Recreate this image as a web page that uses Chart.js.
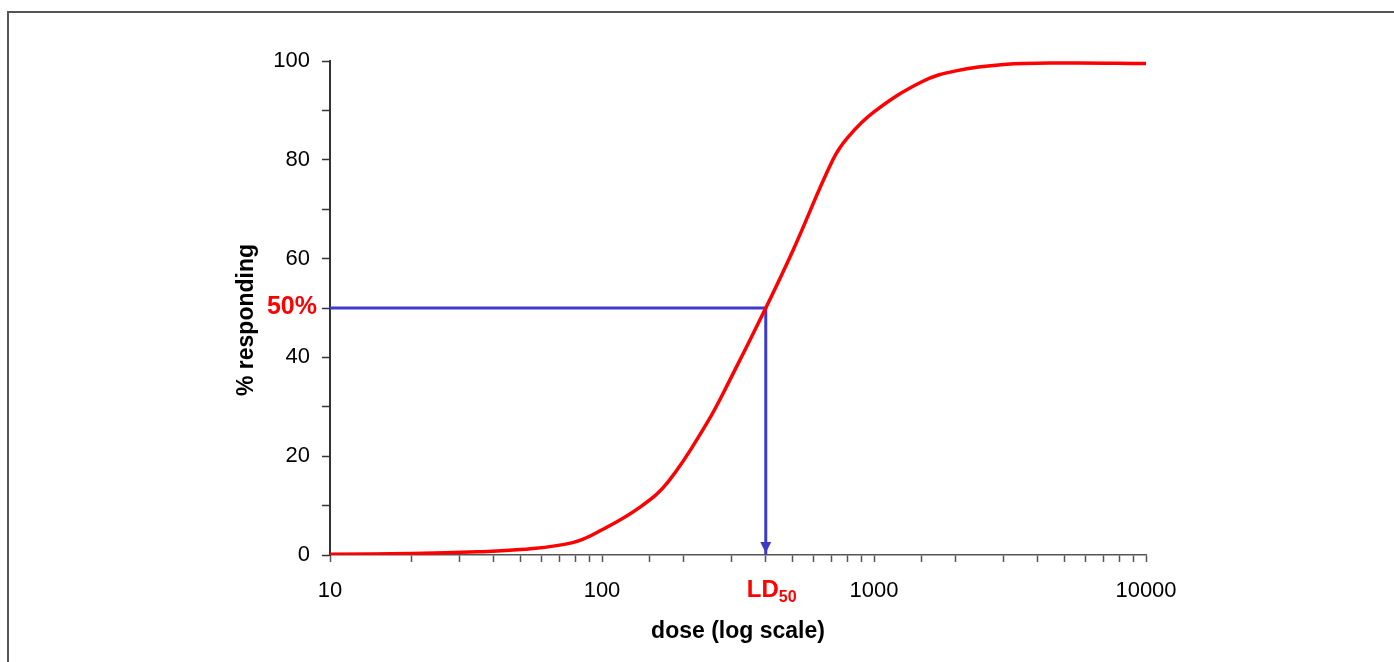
<!DOCTYPE html>
<html>
<head>
<meta charset="utf-8">
<script src="https://cdn.jsdelivr.net/npm/chart.js@4"></script>
<style>
  html, body { margin: 0; padding: 0; background: #fff; }
  #wrap { position: relative; width: 1394px; height: 662px; }
</style>
</head>
<body>
<div id="wrap"><canvas id="c" width="1394" height="662"></canvas></div>
<script>
// ---- data ----
const doses    = [10, 20, 35, 50, 78, 100, 138, 175, 243, 295, 400, 504, 706, 800, 1000, 1500, 2000, 3000, 5000, 10000];
const response = [0.15, 0.3, 0.65, 1.1, 2.5, 5.1, 9.7, 14.8, 26.7, 35.4, 50, 61.7, 80, 84.5, 89.7, 95.8, 98.0, 99.3, 99.6, 99.5];
const ld50Dose = 400;
const halfResponse = 50;
const xTickLabels = [10, 100, 1000, 10000];
const yTickLabels = [0, 20, 40, 60, 80, 100];
const xTitle = 'dose (log scale)';
const yTitle = '% responding';

const FONT = '"Liberation Sans", Arial, Helvetica, sans-serif';
const BLUE = '#3c3cc8';
const RED = '#ff0000';

const curveData = doses.map((d, i) => ({ x: d, y: response[i] }));
const guideData = [
  { x: doses[0], y: halfResponse },
  { x: ld50Dose, y: halfResponse },
  { x: ld50Dose, y: 0 }
];

const decor = {
  id: 'decor',
  afterDraw(chart) {
    const ctx = chart.ctx;
    const xs = chart.scales.x, ys = chart.scales.y;
    ctx.save();
    // frame
    ctx.strokeStyle = '#555';
    ctx.lineWidth = 2;
    ctx.beginPath();
    ctx.moveTo(8, 700);
    ctx.lineTo(8, 12);
    ctx.lineTo(1400, 12);
    ctx.stroke();

    // arrowhead at LD50 on the axis
    const ax = xs.getPixelForValue(ld50Dose);
    const ay = ys.getPixelForValue(0) - 2;
    ctx.fillStyle = BLUE;
    ctx.beginPath();
    ctx.moveTo(ax, ay);
    ctx.lineTo(ax - 5.5, ay - 11);
    ctx.lineTo(ax + 5.5, ay - 11);
    ctx.closePath();
    ctx.fill();

    // "50%" label
    ctx.fillStyle = RED;
    ctx.font = 'bold 25px ' + FONT;
    ctx.textAlign = 'right';
    ctx.textBaseline = 'middle';
    ctx.fillText(halfResponse + '%', 317, ys.getPixelForValue(halfResponse) - 1);

    // LD50 label with subscript
    ctx.textAlign = 'left';
    ctx.textBaseline = 'alphabetic';
    ctx.font = 'bold 24px ' + FONT;
    const lx = ax - 19;
    ctx.fillText('LD', lx, 597);
    const w = ctx.measureText('LD').width;
    ctx.font = 'bold 16px ' + FONT;
    ctx.fillText('50', lx + w, 602);

    // axis titles
    ctx.fillStyle = '#000';
    ctx.font = 'bold 23px ' + FONT;
    ctx.textAlign = 'center';
    ctx.textBaseline = 'middle';
    ctx.fillText(xTitle, (chart.chartArea.left + chart.chartArea.right) / 2, 632);
    ctx.translate(247, 320);
    ctx.rotate(-Math.PI / 2);
    ctx.fillText(yTitle, 0, 0);
    ctx.restore();
  }
};

new Chart(document.getElementById('c'), {
  type: 'line',
  data: {
    datasets: [
      {
        data: curveData,
        borderColor: RED,
        borderWidth: 3.5,
        pointRadius: 0,
        tension: 0.4,
        fill: false
      },
      {
        data: guideData,
        borderColor: BLUE,
        borderWidth: 3,
        pointRadius: 0,
        tension: 0,
        fill: false
      }
    ]
  },
  options: {
    responsive: false,
    animation: false,
    events: [],
    layout: { padding: { top: 61, right: 248, bottom: 0, left: 0 } },
    plugins: { legend: { display: false }, tooltip: { enabled: false }, title: { display: false } },
    scales: {
      x: {
        type: 'logarithmic',
        min: 10,
        max: 10000,
        afterFit(s) { s.height = 107; },
        border: { display: true, color: '#555', width: 1.5 },
        grid: { drawOnChartArea: false, drawTicks: true, tickLength: 7, color: '#555', tickWidth: 1.5 },
        ticks: {
          autoSkip: false,
          maxRotation: 0,
          padding: 16,
          color: '#000',
          font: { family: FONT, size: 22 },
          callback(v) {
            return xTickLabels.some(t => Math.abs(t - v) < 1e-6) ? String(v) : '';
          }
        }
      },
      y: {
        min: 0,
        max: 100,
        afterFit(s) { s.width = 330; },
        border: { display: true, color: '#333', width: 2 },
        grid: { drawOnChartArea: false, drawTicks: true, tickLength: 8, color: '#333', tickWidth: 1.5 },
        ticks: {
          stepSize: 10,
          padding: 12,
          color: '#000',
          font: { family: FONT, size: 22 },
          callback(v) {
            return yTickLabels.includes(v) ? String(v) : '';
          }
        }
      }
    }
  },
  plugins: [decor]
});
</script>
</body>
</html>
